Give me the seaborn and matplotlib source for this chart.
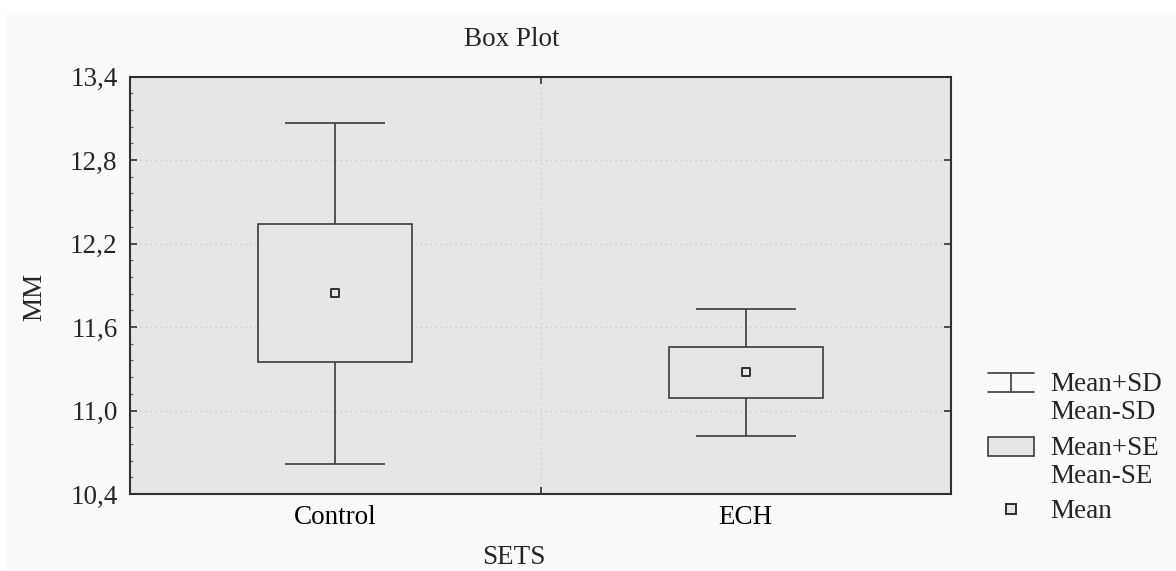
import numpy as np
import pandas as pd
import matplotlib
matplotlib.use("Agg")
import matplotlib.pyplot as plt
import seaborn as sns
from matplotlib.legend_handler import HandlerBase, HandlerPatch
from matplotlib.lines import Line2D
from matplotlib.patches import Rectangle, Patch

# ---- data ----
sets = ["Control", "ECH"]
means = [11.843, 11.275]
se = [0.495, 0.182]
sd = [1.225, 0.455]
y_ticks = [10.4, 11.0, 11.6, 12.2, 12.8, 13.4]
y_tick_labels = ["10,4", "11,0", "11,6", "12,2", "12,8", "13,4"]
legend_labels = ["Mean+SD\nMean-SD", "Mean+SE\nMean-SE", "Mean"]

df = pd.DataFrame({"SETS": sets, "Mean": means, "SE": se, "SD": sd})

sns.set_theme(style="ticks")
plt.rcParams["font.family"] = ["Liberation Serif", "DejaVu Serif"]
FS = 19.5
LINE = "#3c3c3c"
FACE = "#e6e6e6"
LSP = 1.15
HANDLE_UP = 11.5  # points: align handle with first line of two-line labels

W, H = 1176, 571
fig = plt.figure(figsize=(W / 100, H / 100), dpi=100, facecolor="white")
fig.add_artist(Rectangle((7 / W, 0), 1 - 7 / W, 1 - 13 / H, transform=fig.transFigure,
                         facecolor="#fafafa", edgecolor="none", zorder=-10))
ax = fig.add_axes([130 / W, 1 - 494 / H, 821 / W, 417.5 / H])
ax.set_facecolor(FACE)

# whiskers (mean +/- SD)
ax.errorbar(df["SETS"], df["Mean"], yerr=df["SD"], fmt="none", ecolor=LINE,
            elinewidth=1.2, capsize=36, capthick=1.2, zorder=2)
# boxes (mean +/- SE)
ax.bar(df["SETS"], 2 * df["SE"], bottom=df["Mean"] - df["SE"], width=0.375,
       facecolor=FACE, edgecolor=LINE, linewidth=1.2, zorder=3)
# means
sns.scatterplot(data=df, x="SETS", y="Mean", marker="s", s=40, color=FACE,
                edgecolor="#303030", linewidth=1.4, zorder=4, ax=ax, legend=False)

ax.set_xlim(-0.5, 1.5)
ax.set_ylim(10.4, 13.4)
ax.set_yticks(y_ticks)
ax.set_yticklabels(y_tick_labels)
ax.set_yticks(np.arange(10.4, 13.41, 0.12), minor=True)
ax.set_xticks([0.5], minor=True)

ax.grid(axis="y", which="major", color="#c4c4c4", linestyle=(0, (1, 3)), linewidth=0.9)
ax.grid(axis="x", which="minor", color="#c4c4c4", linestyle=(0, (1, 3)), linewidth=0.9)
ax.set_axisbelow(True)

ax.tick_params(axis="x", which="major", length=0, labelsize=FS, pad=8, colors="black")
ax.tick_params(axis="x", which="minor", direction="in", length=5, top=True, bottom=True,
               color="#303030", width=1.2)
ax.tick_params(axis="y", which="major", direction="in", length=5, left=True, right=True,
               labelsize=FS, pad=9, color="#303030", width=1.2)
ax.tick_params(axis="y", which="minor", direction="in", length=2, left=True, right=False,
               color="#606060", width=0.8)
for sp in ax.spines.values():
    sp.set_visible(True)
    sp.set_color("#303030")
    sp.set_linewidth(1.5)

ax.set_xlabel("SETS", fontsize=FS)
ax.set_ylabel("MM", fontsize=FS)
ax.xaxis.set_label_coords((514 - 130) / 821, (494 - 557) / 417.5)
ax.xaxis.label.set_va("center")
ax.yaxis.set_label_coords((35 - 130) / 821, (494 - 297) / 417.5)
ax.yaxis.label.set_va("center")
ax.text((512 - 130) / 821, (494 - 39) / 417.5, "Box Plot", transform=ax.transAxes,
        ha="center", va="center", fontsize=FS)


class SDHandler(HandlerBase):
    def create_artists(self, legend, orig_handle, xdescent, ydescent, width, height,
                       fontsize, trans):
        x0, x1 = -xdescent, -xdescent + width
        xm = (x0 + x1) / 2
        yb = -ydescent + HANDLE_UP
        yt = yb + height
        arts = [Line2D([x0, x1], [yt, yt]), Line2D([x0, x1], [yb, yb]),
                Line2D([xm, xm], [yb, yt])]
        for a in arts:
            a.set_color(LINE)
            a.set_linewidth(1.2)
            a.set_transform(trans)
        return arts


def se_patch(legend, orig_handle, xdescent, ydescent, width, height, fontsize):
    return Rectangle((-xdescent, -ydescent + HANDLE_UP), width, height)


sd_handle = Line2D([], [])
se_handle = Patch(facecolor=FACE, edgecolor=LINE, linewidth=1.2)
mean_handle = Line2D([], [], marker="s", linestyle="none", markersize=6.5,
                     markerfacecolor=FACE, markeredgecolor="#303030", markeredgewidth=1.4)
leg = fig.legend([sd_handle, se_handle, mean_handle], legend_labels,
                 handler_map={sd_handle: SDHandler(), se_handle: HandlerPatch(patch_func=se_patch)},
                 loc="upper left", bbox_to_anchor=(988 / W, 1 - 372 / H),
                 frameon=False, fontsize=FS, borderpad=0, borderaxespad=0,
                 handlelength=1.68, handletextpad=0.62, labelspacing=0.4)
for t in leg.get_texts():
    t.set_linespacing(LSP)

fig.savefig("out.png", dpi=100, facecolor="white")
